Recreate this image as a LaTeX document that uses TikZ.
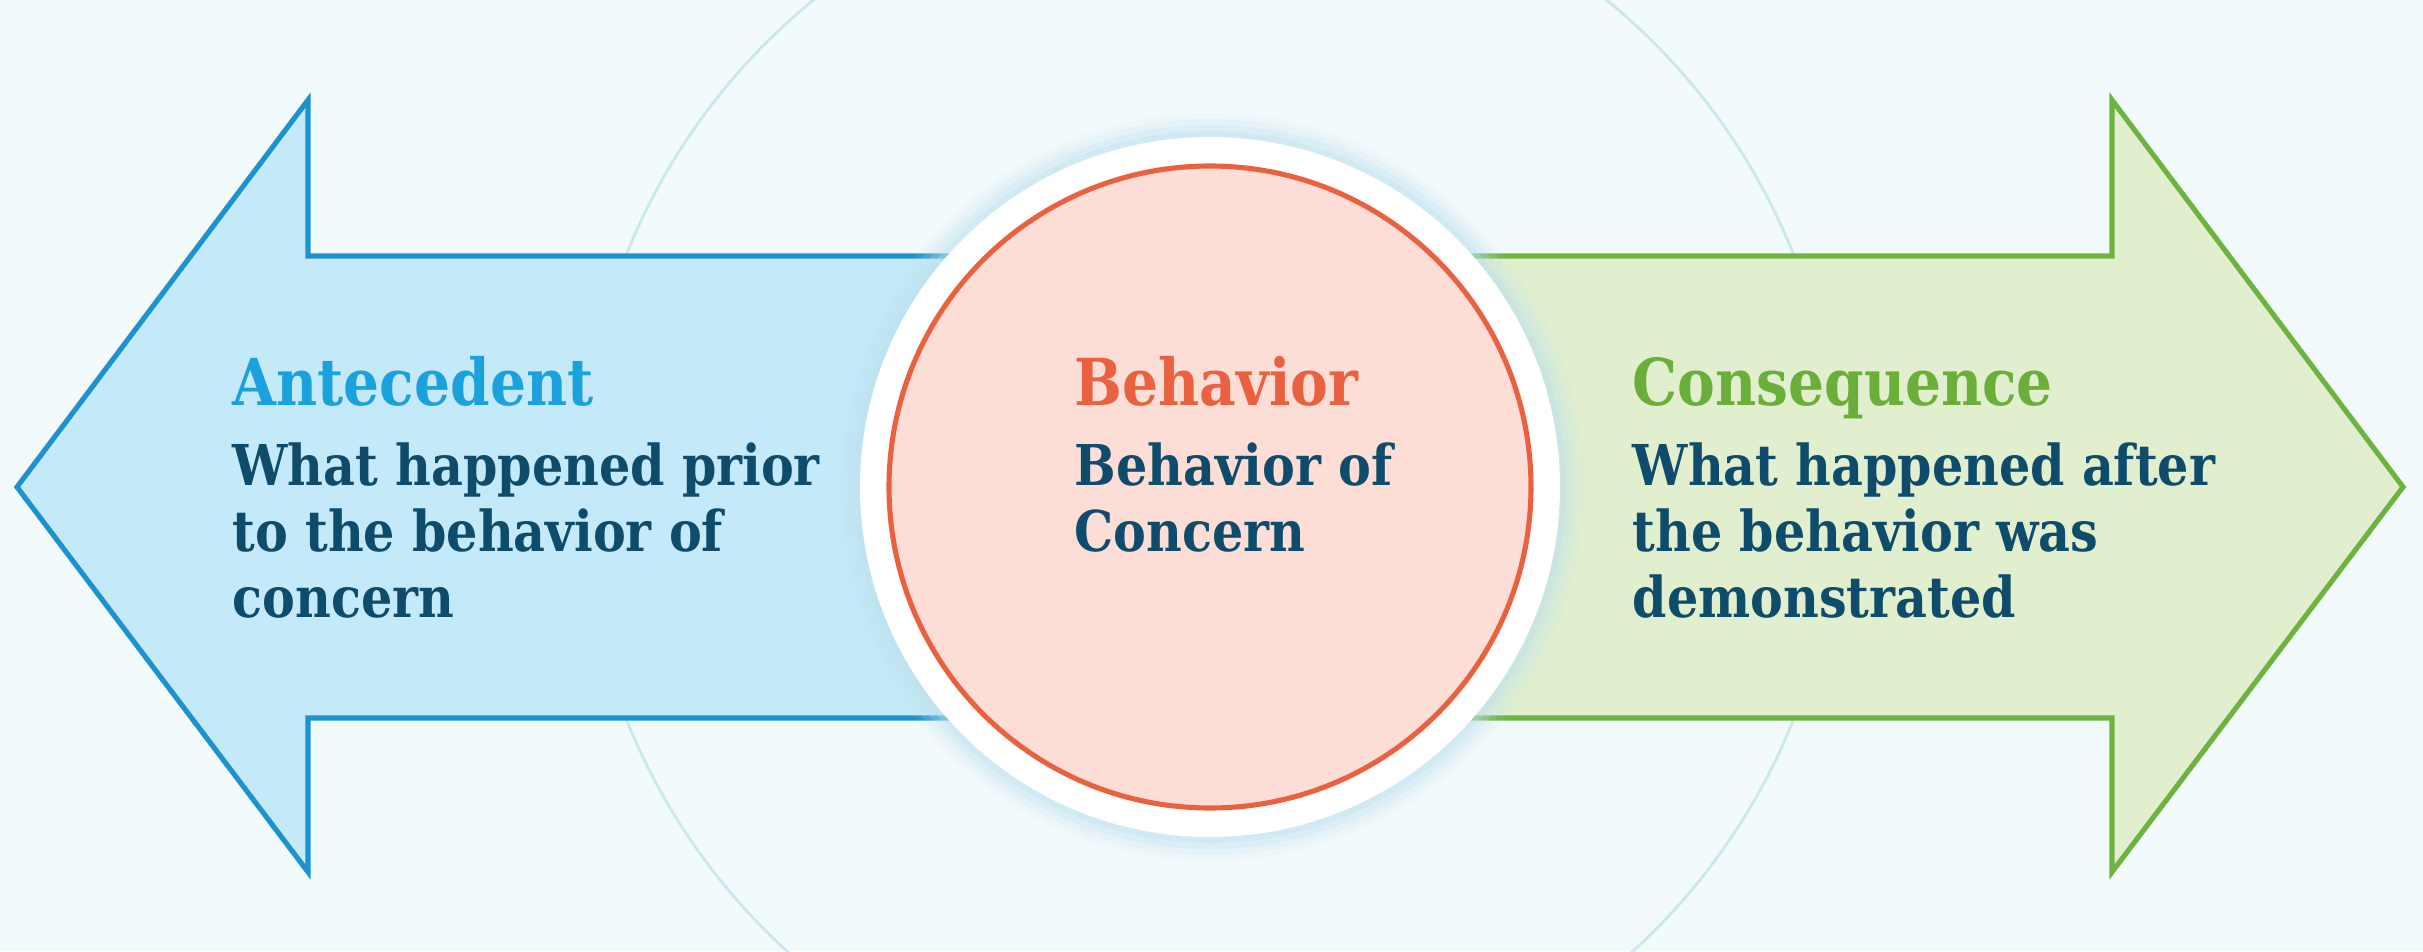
\documentclass[tikz,border=0pt]{standalone}
\usepackage{fontspec}
\setmainfont{DejaVu Serif}[FakeStretch=0.875]
\definecolor{bgc}{HTML}{F3FAFC}
\definecolor{ringc}{HTML}{CBE8EE}
\definecolor{halo}{HTML}{BEE2EE}
\definecolor{bluestroke}{HTML}{1C93CF}
\definecolor{bluefill}{HTML}{C4E9F8}
\definecolor{greenstroke}{HTML}{6DB33F}
\definecolor{greenfill}{HTML}{E1EFCF}
\definecolor{redstroke}{HTML}{E9613F}
\definecolor{redfill}{HTML}{FDDED6}
\definecolor{titleblue}{HTML}{1BA1DC}
\definecolor{titlered}{HTML}{E9613F}
\definecolor{titlegreen}{HTML}{6BAF3A}
\definecolor{bodyc}{HTML}{0F4C6B}
\tikzset{
  arrowshape/.style={line width=1.45pt, line join=miter},
  titletext/.style={anchor=base west, inner sep=0pt, font=\bfseries\fontsize{18.4}{22}\selectfont},
  bodytext/.style={anchor=base west, inner sep=0pt, text=bodyc, font=\bfseries\fontsize{16}{19}\selectfont},
}
\begin{document}
\begin{tikzpicture}[x=0.01cm, y=-0.01cm]
  % canvas
  \fill[bgc] (0,0) rectangle (2423,951);
  \useasboundingbox (0,0) rectangle (2423,951);
  \coordinate (c) at (1210,487);

  % faint background ring
  \draw[ringc, line width=0.8pt] (c) circle[radius=628];

  % left arrow (antecedent)
  \draw[arrowshape, draw=bluestroke, fill=bluefill]
    (17,487) -- (308,100) -- (308,256) -- (1000,256) -- (1000,718)
    -- (308,718) -- (308,872) -- cycle;

  % right arrow (consequence)
  \draw[arrowshape, draw=greenstroke, fill=greenfill]
    (2403,487) -- (2112,100) -- (2112,256) -- (1420,256) -- (1420,718)
    -- (2112,718) -- (2112,872) -- cycle;

  % soft halo round the centre disc
  \foreach \r/\o in {374/0.10, 368/0.16, 362/0.24, 356/0.34}
    \fill[halo, opacity=\o] (c) circle[radius=\r];
  \fill[white] (c) circle[radius=350];
  \draw[redstroke, fill=redfill, line width=1.45pt] (c) circle[radius=321];

  % antecedent text
  \node[titletext, text=titleblue] (at) at (232,405) {Antecedent};
  \node[bodytext] (a1) at (232,485) {What happened prior};
  \node[bodytext] (a2) at (232,551) {to the behavior of};
  \node[bodytext] (a3) at (232,617) {concern};

  % behavior text
  \node[titletext, text=titlered] (bt) at (1074,405) {Behavior};
  \node[bodytext] (b1) at (1074,485) {Behavior of};
  \node[bodytext] (b2) at (1074,551) {Concern};

  % consequence text
  \node[titletext, text=titlegreen] (ct) at (1632,405) {Consequence};
  \node[bodytext] (c1) at (1632,485) {What happened after};
  \node[bodytext] (c2) at (1632,551) {the behavior was};
  \node[bodytext] (c3) at (1632,617) {demonstrated};
\end{tikzpicture}
\end{document}
